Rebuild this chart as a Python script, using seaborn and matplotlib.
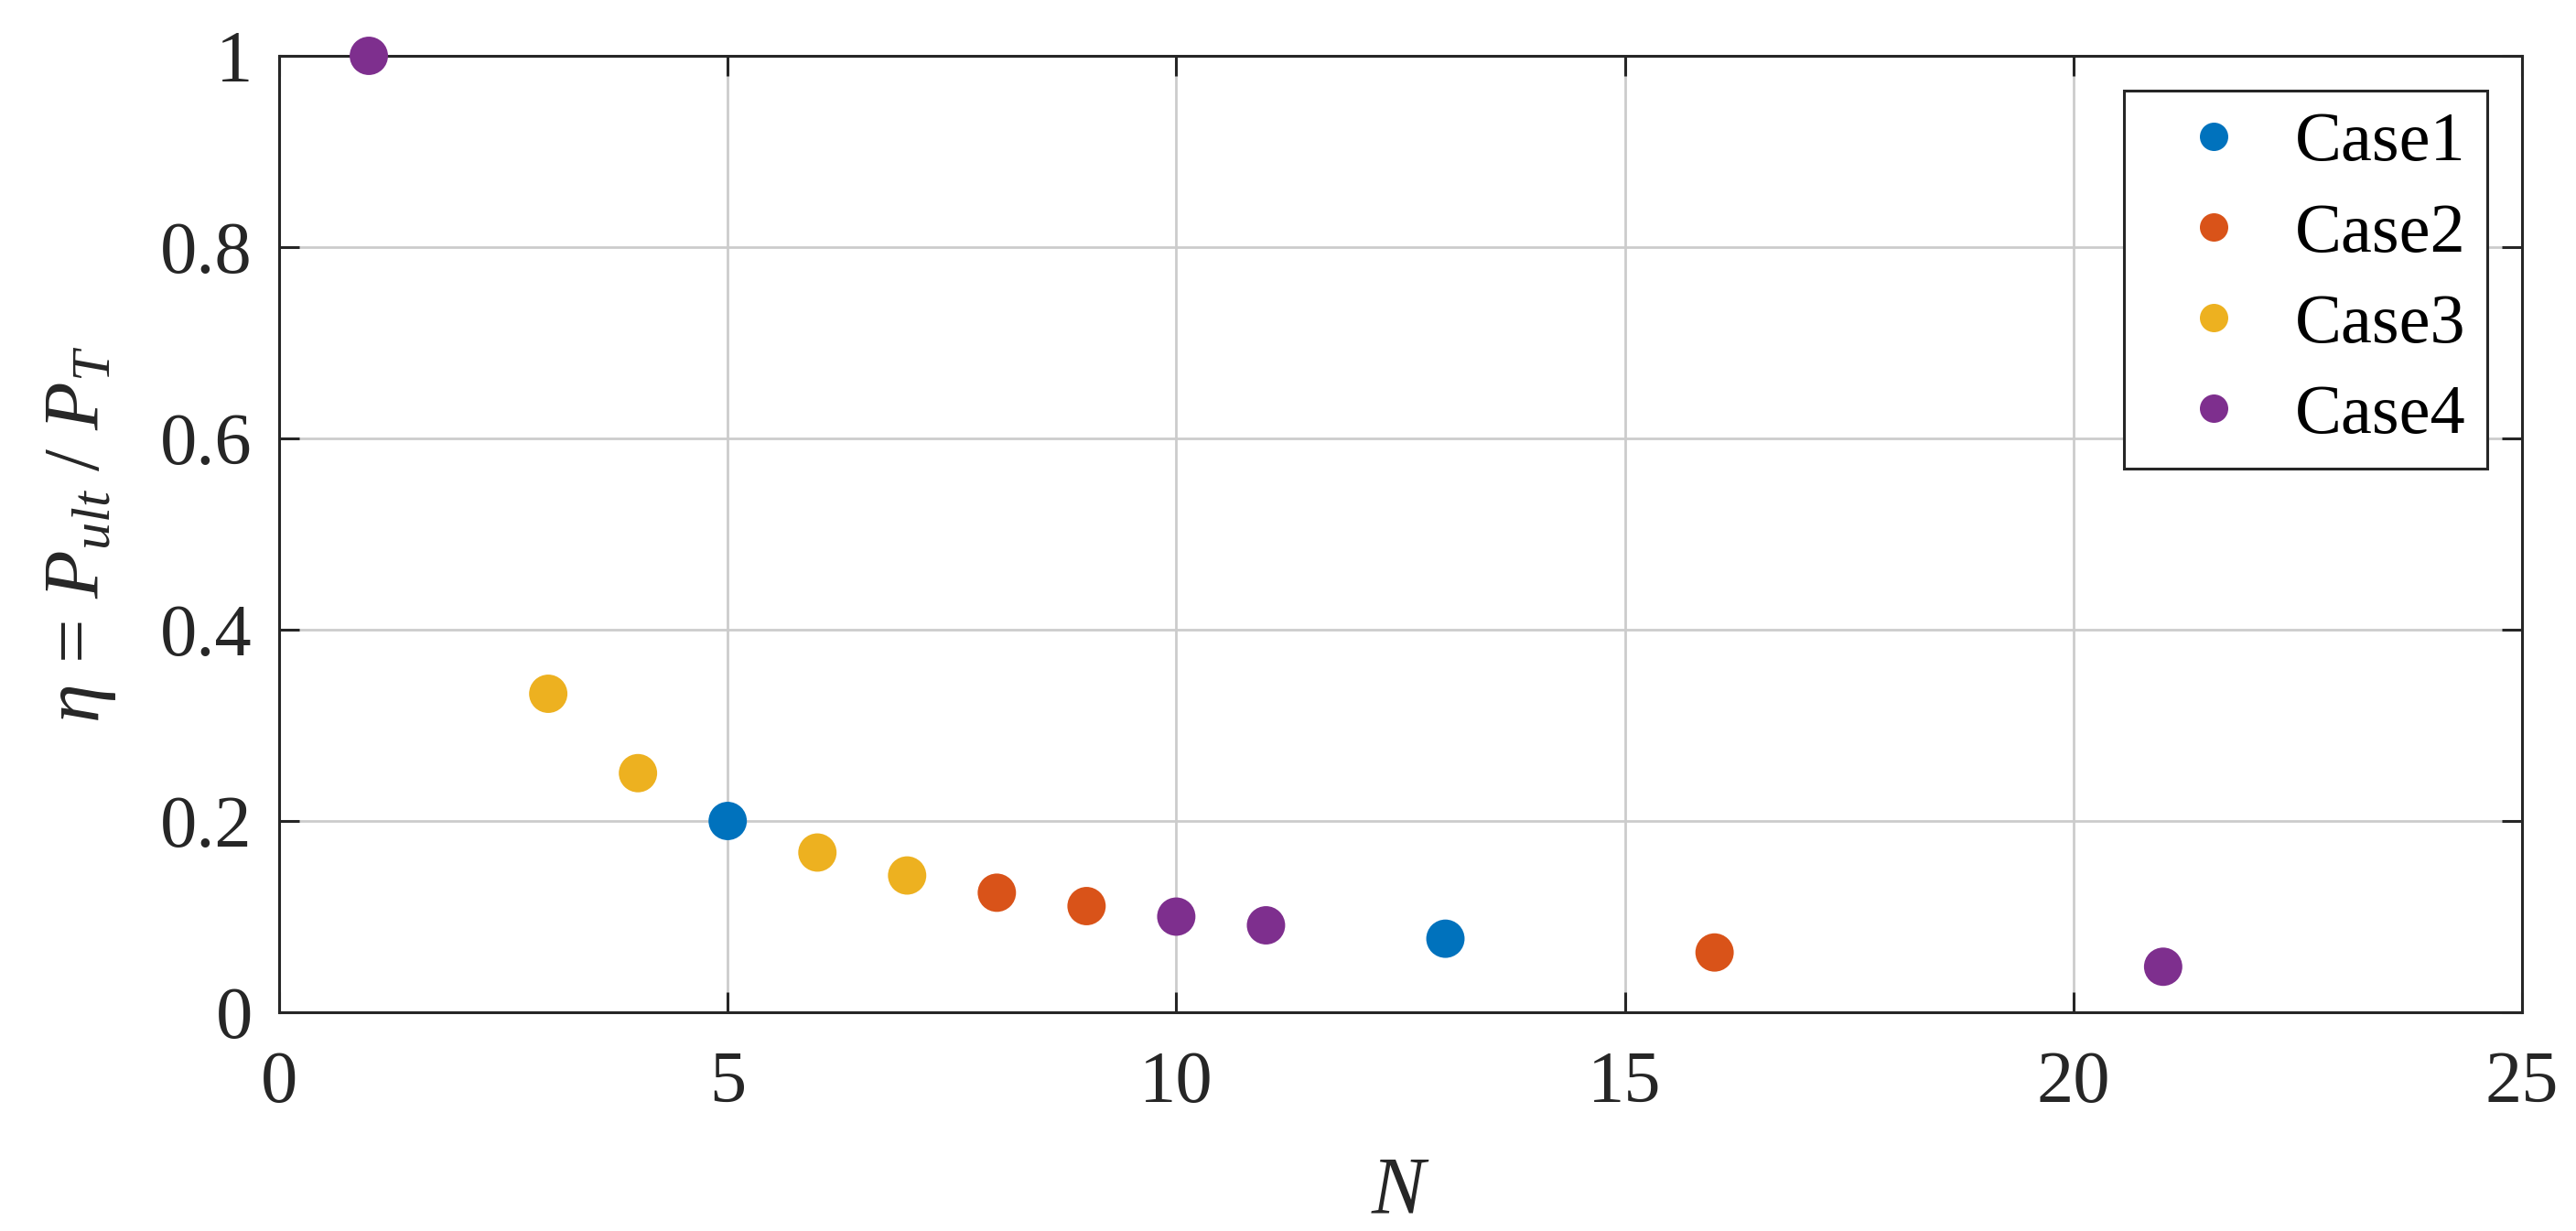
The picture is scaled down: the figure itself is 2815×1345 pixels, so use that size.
import matplotlib
matplotlib.use("Agg")
import matplotlib.pyplot as plt
import seaborn as sns
import pandas as pd

# Data
N_values = [1, 3, 4, 5, 6, 7, 8, 9, 10, 11, 13, 16, 21]
eta_values = [1.0, 0.333, 0.25, 0.2, 0.167, 0.143, 0.125, 0.111, 0.1, 0.0909, 0.0769, 0.0625, 0.0476]
cases = ["Case4", "Case3", "Case3", "Case1", "Case3", "Case3", "Case2", "Case2",
         "Case4", "Case4", "Case1", "Case2", "Case4"]
case_order = ["Case1", "Case2", "Case3", "Case4"]
case_colors = ["#0072BD", "#D95319", "#EDB120", "#7E2F8E"]
x_ticks = [0, 5, 10, 15, 20, 25]
y_ticks = [0, 0.2, 0.4, 0.6, 0.8, 1]
y_ticklabels = ["0", "0.2", "0.4", "0.6", "0.8", "1"]

df = pd.DataFrame({"N": N_values, "eta": eta_values, "Case": cases})

sns.set_theme(style="white")
plt.rcParams["font.family"] = ["Liberation Serif", "DejaVu Serif"]
plt.rcParams["mathtext.fontset"] = "custom"
plt.rcParams["mathtext.rm"] = "Liberation Serif"
plt.rcParams["mathtext.it"] = "Liberation Serif:italic"

W, H = 2815, 1345
L, R, T, B = 305, 2756, 61, 1106
fig = plt.figure(figsize=(W / 100, H / 100), dpi=100)
ax = fig.add_axes([L / W, 1 - B / H, (R - L) / W, (B - T) / H])

sns.scatterplot(data=df, x="N", y="eta", hue="Case", hue_order=case_order,
                palette=dict(zip(case_order, case_colors)), s=910, linewidth=0,
                ax=ax, clip_on=False, zorder=3)

ax.set_xlim(0, 25)
ax.set_ylim(0, 1)
ax.set_xticks(x_ticks)
ax.set_xticklabels([str(t) for t in x_ticks])
ax.set_yticks(y_ticks)
ax.set_yticklabels(y_ticklabels)
ax.grid(True, color="#cccccc", linewidth=2.0)
ax.set_axisbelow(True)

for sp in ax.spines.values():
    sp.set_color("#262626")
    sp.set_linewidth(2.2)
    sp.set_visible(True)

ax.tick_params(axis="both", which="major", direction="in", length=16, width=2.2,
               color="#262626", labelsize=58, labelcolor="#262626",
               top=True, right=True, bottom=True, left=True)
ax.tick_params(axis="x", pad=30)
ax.tick_params(axis="y", pad=21)

ax.set_xlabel("$N$", fontsize=63, color="#262626", labelpad=30)
ax.set_ylabel(r"$\eta\,=\,P_{ult}\ /\ P_T$", fontsize=62, color="#262626", labelpad=33)

leg = ax.legend(loc="upper right",
                bbox_to_anchor=((2718 - L) / (R - L), (B - 99) / (B - T)),
                borderaxespad=0, fontsize=55, frameon=True, fancybox=False,
                markerscale=0.74, handlelength=1.95, handletextpad=0.2,
                labelspacing=0.39, borderpad=0.3)
leg.get_frame().set_edgecolor("#262626")
leg.get_frame().set_linewidth(2.2)
leg.get_frame().set_alpha(1)
for t in leg.get_texts():
    t.set_color("black")

fig.savefig("out.png", dpi=100, facecolor="white")
